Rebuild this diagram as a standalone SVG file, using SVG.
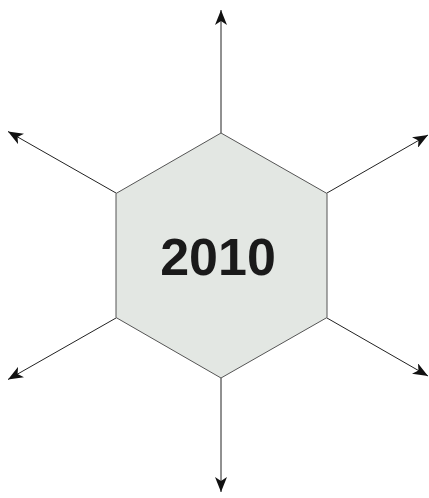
<svg xmlns="http://www.w3.org/2000/svg" width="429" height="498" viewBox="0 0 429 498">
<style>
.conn{stroke:#222;stroke-width:1;fill:none}
.hex{fill:#e3e7e3;stroke:#555;stroke-width:1}
.lbl{font-family:"Liberation Sans",Arial,sans-serif;font-weight:bold;font-size:52px;fill:#1a1a1a}
</style>
<defs>
<marker id="ah" viewBox="0 0 15 12" refX="15" refY="6" markerWidth="15" markerHeight="12" markerUnits="userSpaceOnUse" orient="auto">
<path d="M0,0 L15,6 L0,12 L4,6 Z" fill="#111"/>
</marker>
</defs>
<rect width="429" height="498" fill="#fff"/>
<g id="connectors">
<line class="conn" x1="221" y1="133" x2="221" y2="10" marker-end="url(#ah)"/>
<line class="conn" x1="221" y1="378" x2="221" y2="492" marker-end="url(#ah)"/>
<line class="conn" x1="116" y1="193" x2="8" y2="131.5" marker-end="url(#ah)"/>
<line class="conn" x1="327" y1="193" x2="428" y2="135" marker-end="url(#ah)"/>
<line class="conn" x1="116" y1="318" x2="8" y2="379.5" marker-end="url(#ah)"/>
<line class="conn" x1="327" y1="318" x2="428" y2="376" marker-end="url(#ah)"/>
</g>
<g id="node-2010">
<polygon class="hex" points="221,133 327,193.5 327,317.5 221,378 116,317.5 116,193.5"/>
<text class="lbl" x="218" y="275" text-anchor="middle">2010</text>
</g>
</svg>
